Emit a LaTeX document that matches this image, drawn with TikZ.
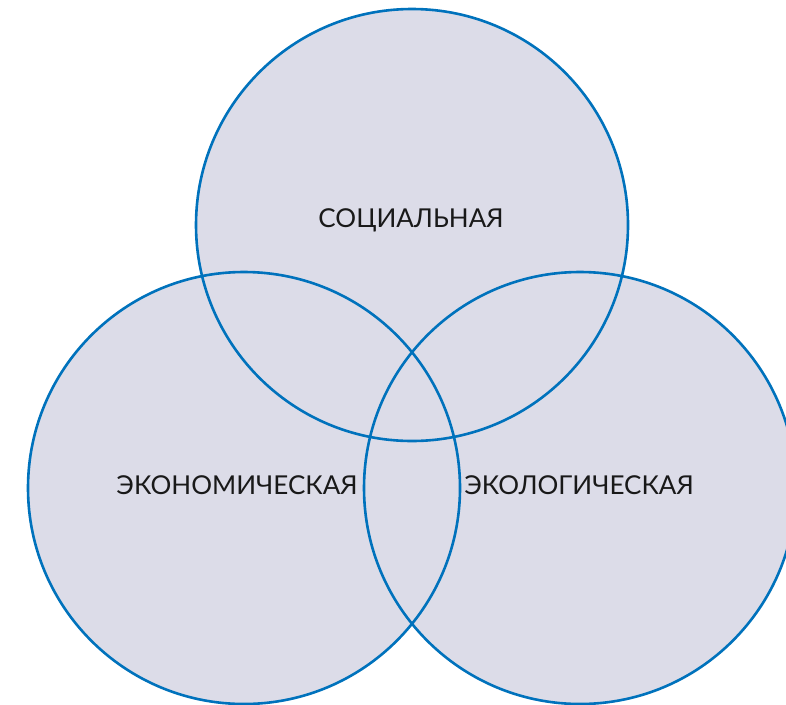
\documentclass[tikz,border=0pt]{standalone}
\usepackage{fontspec}
\setmainfont{Lato}
\begin{document}
\begin{tikzpicture}[x=1pt,y=-1pt]
  % Colors
  \definecolor{ringfill}{RGB}{220,220,232}
  \definecolor{ringline}{RGB}{0,114,188}

  % Styles
  \tikzstyle{ring}=[draw=ringline,line width=2.6pt]
  \tikzstyle{ring label}=[font=\fontsize{26}{31}\selectfont,text=black!90,inner sep=0pt]

  % Frame
  \useasboundingbox (0,0) rectangle (786,704);
  \clip (0,0) rectangle (786,704);

  % The graphic
  \foreach \cx/\cy in {412/225, 244/488, 580/488}
    \fill[ringfill] (\cx,\cy) circle (216);
  \foreach \cx/\cy in {412/225, 244/488, 580/488}
    \draw[style=ring] (\cx,\cy) circle (216);

  \node[style=ring label] (social) at (411,220) {СОЦИАЛЬНАЯ};
  \node[style=ring label] (economic) at (237,485) {ЭКОНОМИЧЕСКАЯ};
  \node[style=ring label] (ecologic) at (579,485) {ЭКОЛОГИЧЕСКАЯ};
\end{tikzpicture}
\end{document}
